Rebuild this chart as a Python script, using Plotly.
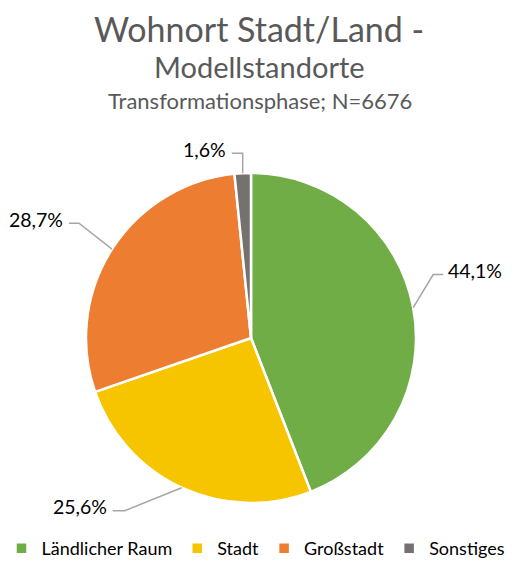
import math
import plotly.graph_objects as go

# ---- data ----
categories = ["Ländlicher Raum", "Stadt", "Großstadt", "Sonstiges"]
values = [44.1, 25.6, 28.7, 1.6]
colors = ["#70AD47", "#F7C400", "#ED7D31", "#767171"]

title_line1 = "Wohnort Stadt/Land -"
title_line2 = "Modellstandorte"
title_line3 = "Transformationsphase; N=6676"

# ---- layout (pixels) ----
W, H = 512, 563
CX, CY, R = 251, 338, 165
FONT = "Lato, 'Open Sans', sans-serif"

# leader line style offsets per slice: (elbow dx, elbow dy, horizontal run)
leader = [(20, -33, 10), (-57, 23, -12), (-33, -26, -10), (0, -20, -11)]

def px(x):
    return x / W

def py(y):
    return 1 - y / H

fig = go.Figure(go.Pie(
    labels=categories,
    values=values,
    marker=dict(colors=colors, line=dict(color="white", width=2.5)),
    sort=False,
    direction="clockwise",
    rotation=0,
    textinfo="none",
    hoverinfo="label+percent",
    domain=dict(x=[px(CX - R), px(CX + R)], y=[py(CY + R), py(CY - R)]),
))

total = sum(values)
shapes = []
annotations = []
cum = 0.0
for v, (edx, edy, run) in zip(values, leader):
    mid = (cum + v / 2) / total * 2 * math.pi
    cum += v
    ax = CX + R * math.sin(mid)
    ay = CY - R * math.cos(mid)
    ex, ey = ax + edx, ay + edy
    hx = ex + run
    path = f"M {px(ax)} {py(ay)} L {px(ex)} {py(ey)} L {px(hx)} {py(ey)}"
    shapes.append(dict(type="path", xref="paper", yref="paper", path=path,
                       line=dict(color="#A6A6A6", width=1.5)))
    label = f"{v:.1f}".replace(".", ",") + "%"
    right = run > 0
    annotations.append(dict(
        x=px(hx + (3 if right else -4)), y=py(ey - 4), xref="paper", yref="paper",
        text=label, showarrow=False,
        xanchor="left" if right else "right", yanchor="middle",
        font=dict(family=FONT, size=19.5, color="#000000"),
    ))

annotations += [
    dict(x=px(259), y=py(28), xref="paper", yref="paper", text=title_line1,
         showarrow=False, xanchor="center", yanchor="middle",
         font=dict(family=FONT, size=34, color="#595959")),
    dict(x=px(259), y=py(67), xref="paper", yref="paper", text=title_line2,
         showarrow=False, xanchor="center", yanchor="middle",
         font=dict(family=FONT, size=29, color="#595959")),
    dict(x=px(260), y=py(101), xref="paper", yref="paper", text=title_line3,
         showarrow=False, xanchor="center", yanchor="middle",
         font=dict(family=FONT, size=22, color="#595959")),
]

fig.update_layout(
    width=W, height=H,
    autosize=False,
    margin=dict(l=0, r=0, t=0, b=0, autoexpand=False),
    paper_bgcolor="white",
    plot_bgcolor="white",
    showlegend=True,
    legend=dict(orientation="h", x=0.5, xanchor="center", y=-4 / H, yanchor="bottom",
                font=dict(family=FONT, size=18, color="#000000"),
                itemwidth=30, traceorder="normal"),
    shapes=shapes,
    annotations=annotations,
)

fig.write_html("out.html",
               config={"displayModeBar": False, "responsive": False},
               default_width=f"{W}px", default_height=f"{H}px",
               post_script="document.body.style.margin='0';document.body.style.padding='0';")
